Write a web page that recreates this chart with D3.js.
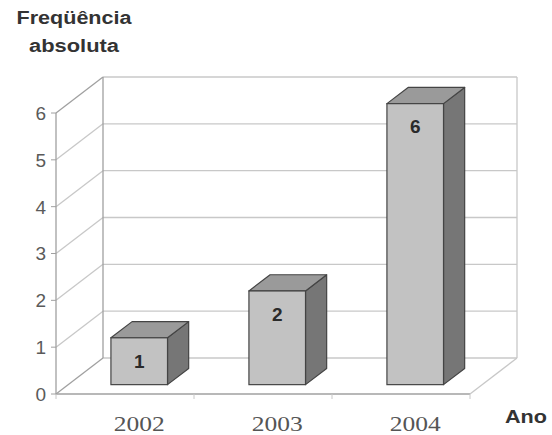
<!DOCTYPE html>
<html><head><meta charset="utf-8">
<script src="https://cdn.jsdelivr.net/npm/d3@7/dist/d3.min.js"></script>
<style>body{margin:0;background:#fff}svg{display:block}</style>
</head><body>
<svg id="c" width="552" height="435"></svg>
<script>
const categories = ["2002", "2003", "2004"];
const values = [1, 2, 6];
const yTicks = [0, 1, 2, 3, 4, 5, 6];
const yTitle = ["Freqüência", "absoluta"];
const xTitle = "Ano";

const svg = d3.select("#c");
const DX = 47, DY = -36;          // depth of the 3D box
const x = d3.scaleBand().domain(categories).range([56, 470]);
const y = d3.scaleLinear().domain([0, 6]).range([394, 113]);
const grid = "#c8c8c8", axisC = "#a0a0a0";

const g = svg.append("g");
yTicks.forEach(t => {
  g.append("line").attr("x1", 56 + DX).attr("x2", 470 + DX)
    .attr("y1", y(t) + DY).attr("y2", y(t) + DY)
    .attr("stroke", grid).attr("stroke-width", 1.3);
  g.append("line").attr("x1", 56).attr("y1", y(t))
    .attr("x2", 56 + DX).attr("y2", y(t) + DY)
    .attr("stroke", t === 6 || t === 0 ? axisC : grid).attr("stroke-width", 1.3);
});
g.append("line").attr("x1", 56 + DX).attr("x2", 56 + DX).attr("y1", y(6) + DY).attr("y2", y(0) + DY).attr("stroke", axisC).attr("stroke-width", 1.3);
g.append("line").attr("x1", 470 + DX).attr("x2", 470 + DX).attr("y1", y(6) + DY).attr("y2", y(0) + DY).attr("stroke", grid).attr("stroke-width", 1.3);
g.append("line").attr("x1", 56).attr("x2", 470).attr("y1", y(0)).attr("y2", y(0)).attr("stroke", axisC).attr("stroke-width", 1.3);
g.append("line").attr("x1", 470).attr("y1", y(0)).attr("x2", 470 + DX).attr("y2", y(0) + DY).attr("stroke", grid).attr("stroke-width", 1.3);
[...categories.map(c => x(c)), 470].forEach(px => {
  g.append("line").attr("x1", px).attr("x2", px).attr("y1", y(0)).attr("y2", y(0) + 5).attr("stroke", grid);
});
g.append("line").attr("x1", 56).attr("x2", 56).attr("y1", y(0)).attr("y2", y(6)).attr("stroke", axisC).attr("stroke-width", 1.3);
yTicks.forEach(t => {
  g.append("line").attr("x1", 51).attr("x2", 56).attr("y1", y(t)).attr("y2", y(t)).attr("stroke", axisC);
  g.append("text").attr("x", 46).attr("y", y(t)).attr("dy", "0.36em")
    .attr("text-anchor", "end").attr("font-family", "Liberation Sans, Arial, sans-serif")
    .attr("font-size", 19).attr("fill", "#5a5a5a").text(t);
});

const f0 = 0.26, f1 = 0.71;
const bw = x.bandwidth() * 0.41;
categories.forEach((c, i) => {
  const v = values[i];
  const cx = x(c) + x.bandwidth() / 2;
  const xl = cx - bw / 2 + DX * f0 + 2, xr = cx + bw / 2 + DX * f0 + 2;
  const yb = y(0) + DY * f0, yt = y(v) + DY * f0;
  const ddx = DX * (f1 - f0), ddy = DY * (f1 - f0);
  const stroke = "#444", sw = 1.2;
  g.append("path").attr("d", `M${xr},${yt}L${xr + ddx},${yt + ddy}L${xr + ddx},${yb + ddy}L${xr},${yb}Z`)
    .attr("fill", "#767676").attr("stroke", stroke).attr("stroke-width", sw).attr("stroke-linejoin", "round");
  g.append("path").attr("d", `M${xl},${yt}L${xl + ddx},${yt + ddy}L${xr + ddx},${yt + ddy}L${xr},${yt}Z`)
    .attr("fill", "#9a9a9a").attr("stroke", stroke).attr("stroke-width", sw).attr("stroke-linejoin", "round");
  g.append("rect").attr("x", xl).attr("y", yt).attr("width", xr - xl).attr("height", yb - yt)
    .attr("fill", "#c2c2c2").attr("stroke", stroke).attr("stroke-width", sw);
  g.append("text").attr("x", (xl + xr) / 2).attr("y", yt + 23).attr("dy", "0.36em")
    .attr("text-anchor", "middle").attr("font-family", "Liberation Sans, Arial, sans-serif")
    .attr("font-weight", "bold").attr("font-size", 19).attr("fill", "#2a2a2a").text(v);
  g.append("text").attr("x", (xl + xr) / 2).attr("y", 431)
    .attr("text-anchor", "middle").attr("font-family", "Liberation Serif, Times New Roman, serif")
    .attr("font-size", 22).attr("fill", "#555").attr("textLength", 51).attr("lengthAdjust", "spacingAndGlyphs").text(c);
});

svg.append("text").attr("x", 74).attr("y", 24).attr("text-anchor", "middle")
  .attr("font-family", "Liberation Sans, Arial, sans-serif").attr("font-weight", "bold")
  .attr("font-size", 18).attr("fill", "#333").attr("textLength", 115).attr("lengthAdjust", "spacingAndGlyphs").text(yTitle[0]);
svg.append("text").attr("x", 74).attr("y", 52).attr("text-anchor", "middle")
  .attr("font-family", "Liberation Sans, Arial, sans-serif").attr("font-weight", "bold")
  .attr("font-size", 18).attr("fill", "#333").attr("textLength", 90).attr("lengthAdjust", "spacingAndGlyphs").text(yTitle[1]);
svg.append("text").attr("x", 526).attr("y", 423).attr("text-anchor", "middle")
  .attr("font-family", "Liberation Sans, Arial, sans-serif").attr("font-weight", "bold")
  .attr("font-size", 18).attr("fill", "#333").attr("textLength", 42).attr("lengthAdjust", "spacingAndGlyphs").text(xTitle);
</script>
</body></html>
